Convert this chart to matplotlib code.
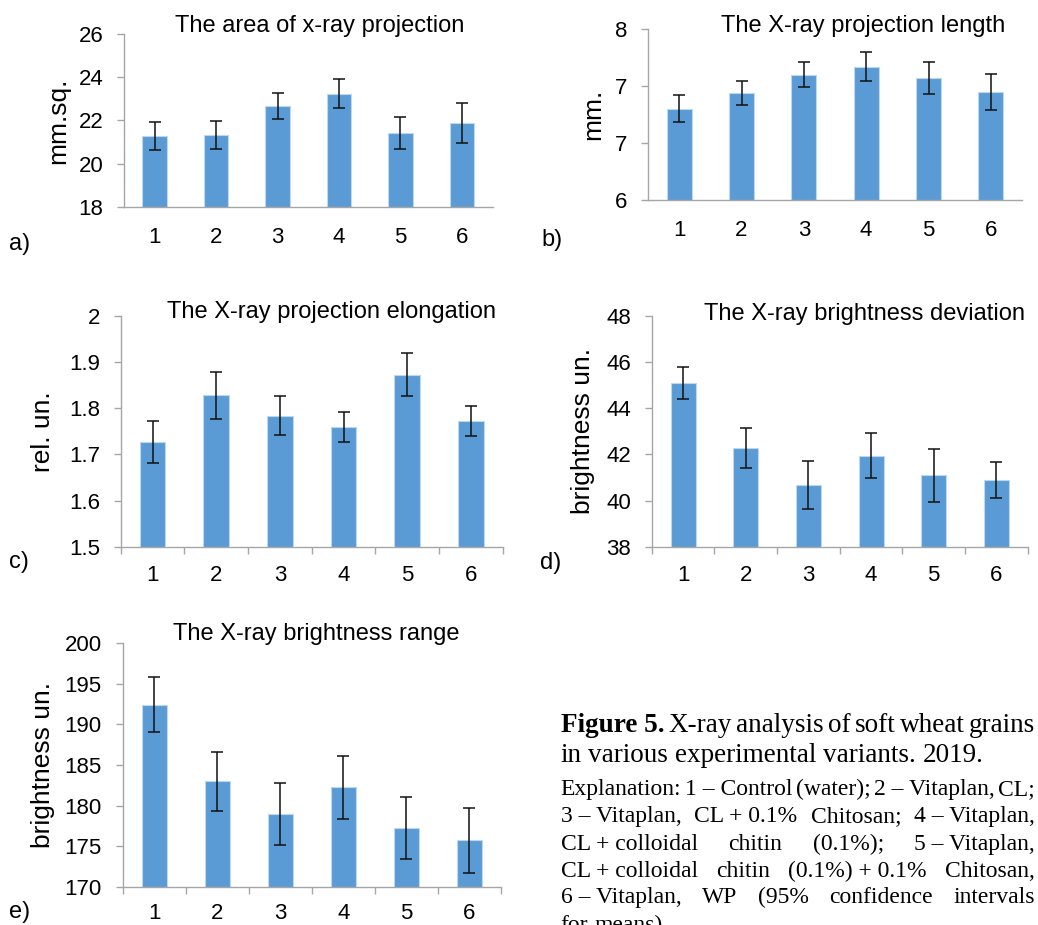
import matplotlib
matplotlib.use("Agg")
import matplotlib.pyplot as plt
from matplotlib.ticker import FixedLocator, FormatStrFormatter, FuncFormatter
import numpy as np

plt.rcParams['font.family'] = ['Liberation Sans', 'DejaVu Sans']

variants = ['1', '2', '3', '4', '5', '6']

area_mean = [21.27, 21.32, 22.65, 23.24, 21.40, 21.89]
area_err = [0.64, 0.67, 0.61, 0.69, 0.75, 0.93]
length_mean = [7.07, 7.255, 7.47, 7.56, 7.43, 7.27]
length_err = [0.16, 0.14, 0.15, 0.17, 0.19, 0.21]
elong_mean = [1.727, 1.828, 1.784, 1.759, 1.873, 1.772]
elong_err = [0.045, 0.051, 0.042, 0.033, 0.047, 0.033]
dev_mean = [45.08, 42.29, 40.69, 41.95, 41.09, 40.89]
dev_err = [0.69, 0.87, 1.04, 0.98, 1.15, 0.77]
range_mean = [192.44, 182.99, 178.96, 182.25, 177.23, 175.71]
range_err = [3.35, 3.64, 3.80, 3.87, 3.83, 3.96]

W, H = 1038, 925
BAR = '#5B9BD5'
GRAY = '#A6A6A6'

fig = plt.figure(figsize=(W / 100, H / 100), dpi=100)


def panel(box, mean, err, yticks, fmt, title, title_xy, ylabel, ylabel_x,
          letter, letter_xy, xticks_marks, xpad=14.5):
    l, t, r, b = box
    ax = fig.add_axes([l / W, 1 - b / H, (r - l) / W, (b - t) / H])
    x = np.arange(len(variants))
    ax.bar(x, mean, width=0.4, color=BAR, edgecolor='#BDD7EE', linewidth=0.8,
           zorder=2)
    ax.errorbar(x, mean, yerr=err, fmt='none', ecolor='#111111',
                elinewidth=1.1, capsize=4.3, capthick=1.1, zorder=3)
    ax.set_xlim(-0.5, len(variants) - 0.5)
    ax.set_ylim(yticks[0], yticks[-1])
    ax.yaxis.set_major_locator(FixedLocator(yticks))
    ax.yaxis.set_major_formatter(fmt)
    ax.set_xticks(x)
    ax.set_xticklabels(variants)
    for s in ['top', 'right']:
        ax.spines[s].set_visible(False)
    for s in ['left', 'bottom']:
        ax.spines[s].set_color(GRAY)
        ax.spines[s].set_linewidth(1.0)
    ax.tick_params(axis='y', direction='out', length=5, width=1.0,
                   color=GRAY, labelsize=16, pad=10, labelcolor='black')
    ax.tick_params(axis='x', which='major', length=0, labelsize=16, pad=xpad,
                   labelcolor='black')
    if xticks_marks:
        ax.xaxis.set_minor_locator(FixedLocator(np.arange(-0.5, len(variants), 1.0)))
        ax.tick_params(axis='x', which='minor', direction='out', length=5,
                       width=1.0, color=GRAY)
    # title, placed by its baseline
    tx = (title_xy[0] - l) / (r - l)
    ty = (b - title_xy[1]) / (b - t)
    ax.set_title(title, x=tx, y=ty, ha='center', va='baseline', fontsize=17,
                 pad=0)
    ax.set_ylabel(ylabel, fontsize=19, va='center')
    ax.yaxis.set_label_coords((ylabel_x - l) / (r - l), 0.5)
    fig.text(letter_xy[0] / W, 1 - letter_xy[1] / H, letter, fontsize=17,
             ha='center', va='center')
    return ax


general = FuncFormatter(lambda v, p: '%g' % round(v, 6))

panel((124, 34, 492.5, 206.7), area_mean, area_err, [18, 20, 22, 24, 26],
      general, 'The area of x-ray projection', (320, 32.3), 'mm.sq.', 58,
      'a)', (20, 244), False)
panel((648, 29.3, 1022, 200.3), length_mean, length_err,
      [6, 6 + 2 / 3, 6 + 4 / 3, 8], FormatStrFormatter('%.0f'),
      'The X-ray projection length', (863.5, 31.7), 'mm.', 593.3,
      'b)', (552, 240), False)
panel((120.7, 316, 502.7, 546.7), elong_mean, elong_err,
      [1.5, 1.6, 1.7, 1.8, 1.9, 2.0], general,
      'The X-ray projection elongation', (331.7, 318.3), 'rel. un.', 43.3,
      'c)', (19, 562), True, xpad=13.5)
panel((651.7, 316, 1027.7, 546.7), dev_mean, dev_err,
      [38, 40, 42, 44, 46, 48], general,
      'The X-ray brightness deviation', (865, 320), 'brightness un.', 583,
      'd)', (551, 563), True, xpad=13.5)
panel((122.7, 643.3, 501, 886.7), range_mean, range_err,
      [170, 175, 180, 185, 190, 195, 200], general,
      'The X-ray brightness range', (316.7, 640), 'brightness un.', 43.3,
      'e)', (20, 912), True, xpad=12)

# caption block, justified by hand
renderer = fig.canvas.get_renderer()
SERIF = 'Liberation Serif'


def caption_line(tokens, y, size, justify, x0=560.7, x1=1035):
    items = []
    for s, w in tokens:
        items.append(fig.text(0, 1 - y / H, s, fontsize=size, fontweight=w,
                              family=SERIF, ha='left', va='baseline'))
    widths = [it.get_window_extent(renderer).width for it in items]
    if justify and len(items) > 1:
        gap = (x1 - x0 - sum(widths)) / (len(items) - 1)
    else:
        gap = 0.25 * size * 100 / 72
    xpos = x0
    for it, wd in zip(items, widths):
        it.set_x(xpos / W)
        xpos += wd + gap


N = 'normal'
caption_line([('Figure 5.', 'bold'), ('X-ray', N), ('analysis', N), ('of', N),
              ('soft', N), ('wheat', N), ('grains', N)], 731.7, 19.5, True)
caption_line([('in', N), ('various', N), ('experimental', N), ('variants.', N),
              ('2019.', N)], 761.7, 19.5, False)
caption_line([('Explanation:', N), ('1 \u2013 Control', N), ('(water);', N),
              ('2 \u2013 Vitaplan,', N), ('CL;', N)], 795, 17, True)
caption_line([('3 \u2013 Vitaplan,', N), ('CL + 0.1%', N), ('Chitosan;', N),
              ('4 \u2013 Vitaplan,', N)], 821.7, 17, True)
caption_line([('CL + colloidal', N), ('chitin', N), ('(0.1%);', N),
              ('5 \u2013 Vitaplan,', N)], 850, 17, True)
caption_line([('CL + colloidal', N), ('chitin', N), ('(0.1%) + 0.1%', N),
              ('Chitosan,', N)], 876.7, 17, True)
caption_line([('6 \u2013 Vitaplan,', N), ('WP', N), ('(95%', N),
              ('confidence', N), ('intervals', N)], 903.3, 17, True)
caption_line([('for', N), ('means).', N)], 931, 17, False)

fig.savefig('out.png', dpi=100)
